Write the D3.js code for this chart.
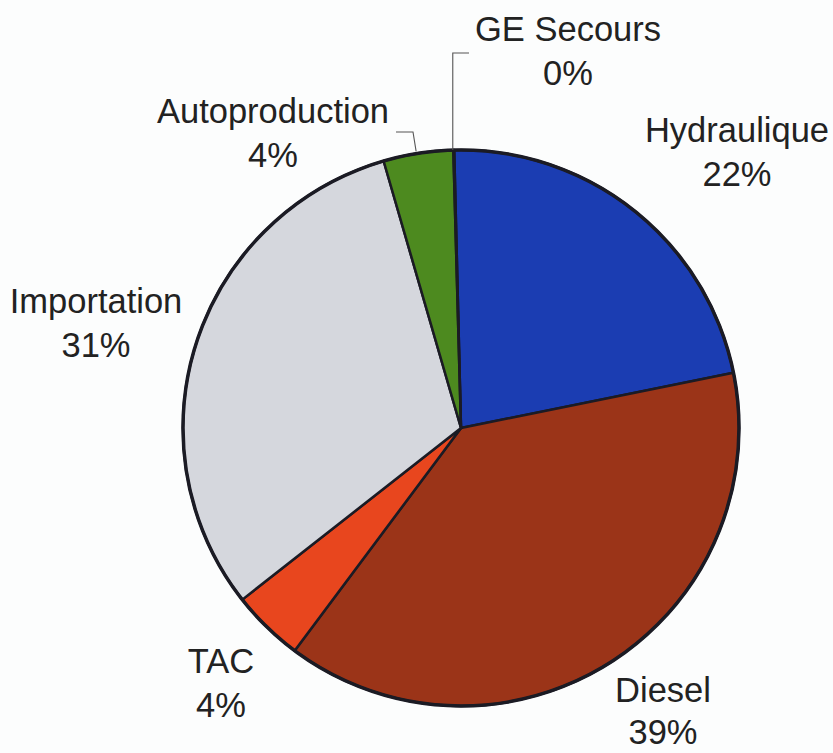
<!DOCTYPE html>
<html><head><meta charset="utf-8">
<script src="https://cdn.jsdelivr.net/npm/d3@7"></script>
<style>
html,body{margin:0;padding:0;background:#fcfdfd;}
svg{display:block;}
text{font-family:"Liberation Sans",Arial,Helvetica,sans-serif;fill:#222;}
</style></head>
<body>
<script>
const categories = ["Hydraulique","Diesel","TAC","Importation","Autoproduction","GE Secours"];
const values = [22.2, 38.4, 4.2, 31.1, 4.05, 0.05];
const pctLabels = ["22%","39%","4%","31%","4%","0%"];
const colors = ["#1b3db2","#9b3418","#e8461e","#d5d7dd","#4d8a1f","#888888"];

const W = 833, H = 753;
const cx = 461, cy = 428, R = 278;
const startAngle = -1.4 * Math.PI / 180;

const svg = d3.select("body").append("svg").attr("width", W).attr("height", H);
const g = svg.append("g").attr("transform", `translate(${cx},${cy})`);

const pie = d3.pie().sort(null).value(d => d).startAngle(startAngle).endAngle(startAngle + 2*Math.PI);
const arcs = pie(values);
const arc = d3.arc().innerRadius(0).outerRadius(R);

g.selectAll("path.slice").data(arcs).enter().append("path")
  .attr("class","slice")
  .attr("d", arc)
  .attr("fill", (d,i) => colors[i])
  .attr("stroke", "#1b1b24")
  .attr("stroke-width", 2.5)
  .attr("stroke-linejoin","round");

g.append("circle").attr("r", R).attr("fill","none").attr("stroke","#1b1b24").attr("stroke-width",3.5);

// label positions (center x, baseline of first line, line gap)
const labelPos = {
  "Hydraulique": [737, 142, 44],
  "Diesel": [663, 702, 42],
  "TAC": [221, 673, 44],
  "Importation": [96, 313, 44],
  "Autoproduction": [273, 123, 44],
  "GE Secours": [568, 41, 44]
};
const fontSize = 34.5;

categories.forEach((c,i) => {
  const [x,y,gap] = labelPos[c];
  const t = svg.append("text").attr("text-anchor","middle").attr("font-size", fontSize);
  t.append("tspan").attr("x", x).attr("y", y).text(c);
  t.append("tspan").attr("x", x).attr("y", y + gap).text(pctLabels[i]);
});

// leader lines
function edgePoint(d){
  const a = (d.startAngle + d.endAngle)/2;
  return [cx + R*Math.sin(a), cy - R*Math.cos(a)];
}
const geP = edgePoint(arcs[5]);
svg.append("polyline")
  .attr("points", `${geP[0]-1},${geP[1]} ${geP[0]-1},53 469,53`)
  .attr("fill","none").attr("stroke","#555").attr("stroke-width",1.1);
const apP = edgePoint(arcs[4]);
svg.append("polyline")
  .attr("points", `396,132 413,132 ${apP[0]-2},${apP[1]-2}`)
  .attr("fill","none").attr("stroke","#555").attr("stroke-width",1.1);
</script>
</body></html>
